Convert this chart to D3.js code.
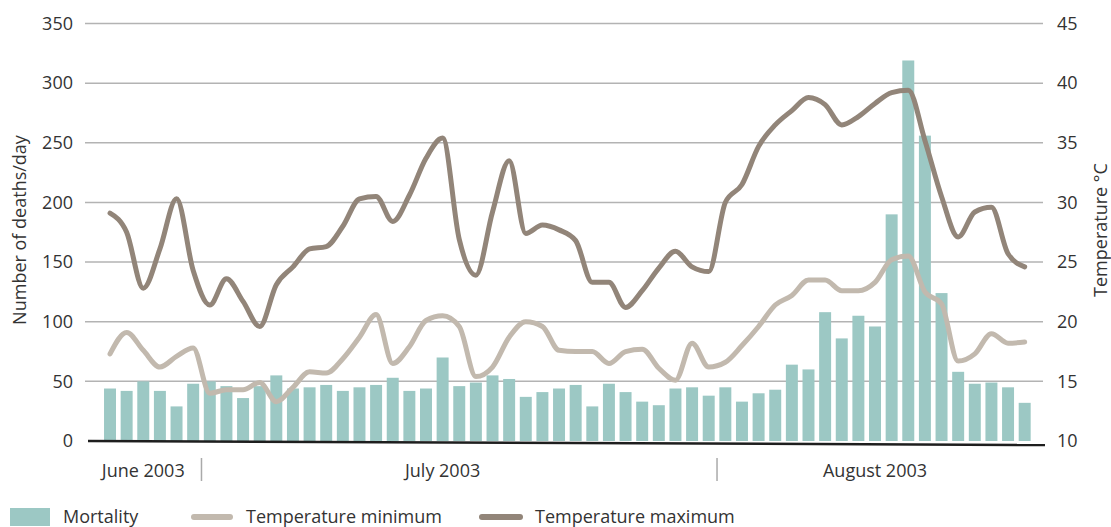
<!DOCTYPE html>
<html>
<head>
<meta charset="utf-8">
<script src="https://cdn.jsdelivr.net/npm/d3@7"></script>
<style>
  body { margin: 0; background: #fff; }
  svg { display: block; font-family: "Open Sans", "Noto Sans", sans-serif; }
  .tick-label { font-size: 18px; fill: #333; }
</style>
</head>
<body>
<svg id="chart" width="1111" height="527"></svg>
<script>
// days: 25 June 2003 .. 19 August 2003
const START_DAY = new Date(2003, 5, 25);
const DAY_COUNT = 56;
const days = d3.timeDay.range(START_DAY, d3.timeDay.offset(START_DAY, DAY_COUNT));

const mortality = [
  44, 42, 50, 42, 29, 48, 50, 46, 36, 46, 55, 44, 45, 47, 42, 45, 47, 53, 42,
  44, 70, 46, 49, 55, 52, 37, 41, 44, 47, 29, 48, 41, 33, 30, 44, 45, 38,
  45, 33, 40, 43, 64, 60, 108, 86, 105, 96, 190, 319, 256, 124, 58, 48, 49, 45, 32
];

const tempMax = [
  29.1, 27.5, 22.8, 26.1, 30.3, 24.3, 21.4, 23.6, 21.7, 19.6, 23.1, 24.6, 26.1, 26.3, 28.0, 30.3, 30.5, 28.4, 30.6,
  33.7, 35.4, 26.9, 23.9, 29.2, 33.5, 27.4, 28.1, 27.7, 26.8, 23.3, 23.3, 21.2, 22.6, 24.5, 25.9, 24.6, 24.2,
  30.0, 31.5, 34.7, 36.5, 37.7, 38.8, 38.2, 36.5, 37.2, 38.3, 39.2, 39.4, 35.2, 30.5, 27.1, 29.2, 29.6, 25.7, 24.6
];

const tempMin = [
  17.3, 19.1, 17.6, 16.2, 17.1, 17.8, 14.0, 14.3, 14.3, 14.9, 13.3, 14.5, 15.8, 15.7, 16.9, 18.7, 20.6, 16.5, 17.9,
  20.1, 20.5, 19.6, 15.4, 16.2, 18.7, 20.0, 19.6, 17.6, 17.5, 17.5, 16.5, 17.5, 17.7, 16.1, 15.1, 18.2, 16.2,
  16.6, 18.0, 19.6, 21.4, 22.2, 23.5, 23.5, 22.6, 22.6, 23.3, 25.2, 25.5, 22.5, 21.5, 16.7, 17.3, 19.0, 18.2, 18.3
];

const deathTicks = [0, 50, 100, 150, 200, 250, 300, 350];
const tempTicks = [10, 15, 20, 25, 30, 35, 40, 45];

const monthLabels = ["June 2003", "July 2003", "August 2003"];
const monthLabelDays = [new Date(2003, 5, 27), new Date(2003, 6, 15), new Date(2003, 7, 10)];
const monthStarts = [new Date(2003, 6, 1), new Date(2003, 7, 1)];

const legendItems = ["Mortality", "Temperature minimum", "Temperature maximum"];

const COLORS = { bar: "#9cc8c4", tmin: "#c2b9ae", tmax: "#928579", grid: "#b3b3b3", base: "#1e1e1e" };

const PLOT = { left: 85, right: 1043, top: 23.5, bottom: 441 };

const svg = d3.select("#chart");

const xScale = d3.scaleBand()
  .domain(days.map(d => +d))
  .range([101.7, 1033])
  .paddingInner(0.28)
  .paddingOuter(0.14);

const yDeaths = d3.scaleLinear().domain([0, 350]).range([PLOT.bottom, PLOT.top]);
const yTemp = d3.scaleLinear().domain([10, 45]).range([PLOT.bottom, PLOT.top]);

const xc = d => xScale(+d) + xScale.bandwidth() / 2;

// grid lines
svg.append("g")
  .selectAll("line")
  .data(deathTicks.filter(t => t > 0))
  .enter()
  .append("line")
  .attr("x1", PLOT.left)
  .attr("x2", PLOT.right)
  .attr("y1", d => yDeaths(d))
  .attr("y2", d => yDeaths(d))
  .attr("stroke", COLORS.grid)
  .attr("stroke-width", 1.5);

// left axis labels
const yaL = svg.append("g")
  .attr("transform", "translate(" + (PLOT.left + 2) + ",0)")
  .call(d3.axisLeft(yDeaths).tickValues(deathTicks).tickSize(0).tickPadding(14));
yaL.select(".domain").remove();
yaL.selectAll("text").attr("class", "tick-label").attr("font-size", null).attr("font-family", null);
yaL.attr("font-size", null).attr("font-family", null);

// right axis labels
const yaR = svg.append("g")
  .attr("transform", "translate(" + (PLOT.right) + ",0)")
  .call(d3.axisRight(yTemp).tickValues(tempTicks).tickSize(0).tickPadding(14));
yaR.select(".domain").remove();
yaR.selectAll("text").attr("class", "tick-label");
yaR.attr("font-size", null).attr("font-family", null);

// bars
svg.append("g")
  .selectAll("rect")
  .data(days)
  .enter()
  .append("rect")
  .attr("x", d => xScale(+d))
  .attr("width", xScale.bandwidth())
  .attr("y", (d, i) => yDeaths(mortality[i]))
  .attr("height", (d, i) => yDeaths(0) - yDeaths(mortality[i]))
  .attr("fill", COLORS.bar);

// temperature lines
const lineFor = values => d3.line()
  .x((d, i) => xc(days[i]))
  .y(d => yTemp(d))
  .curve(d3.curveMonotoneX)(values);

svg.append("path")
  .attr("d", lineFor(tempMin))
  .attr("fill", "none")
  .attr("stroke", COLORS.tmin)
  .attr("stroke-width", 5)
  .attr("stroke-linejoin", "round")
  .attr("stroke-linecap", "round");

svg.append("path")
  .attr("d", lineFor(tempMax))
  .attr("fill", "none")
  .attr("stroke", COLORS.tmax)
  .attr("stroke-width", 5)
  .attr("stroke-linejoin", "round")
  .attr("stroke-linecap", "round");

// baseline
svg.append("line")
  .attr("x1", 88)
  .attr("x2", 1045)
  .attr("y1", yDeaths(0))
  .attr("y2", yDeaths(0) + 4)
  .attr("stroke", COLORS.base)
  .attr("stroke-width", 2.5);

// month separators
const step = xScale.step();
svg.append("g")
  .selectAll("line")
  .data(monthStarts)
  .enter()
  .append("line")
  .attr("x1", d => xScale(+d) - (step - xScale.bandwidth()) / 2)
  .attr("x2", d => xScale(+d) - (step - xScale.bandwidth()) / 2)
  .attr("y1", 458)
  .attr("y2", 481)
  .attr("stroke", "#aaa")
  .attr("stroke-width", 1.5);

// month labels
svg.append("g")
  .selectAll("text")
  .data(monthLabels)
  .enter()
  .append("text")
  .attr("class", "tick-label")
  .attr("x", (d, i) => xc(monthLabelDays[i]))
  .attr("y", 477)
  .attr("text-anchor", "middle")
  .text(d => d);

// axis titles
svg.append("text")
  .attr("class", "tick-label")
  .attr("transform", "translate(26,230) rotate(-90)")
  .attr("text-anchor", "middle")
  .text("Number of deaths/day");

svg.append("text")
  .attr("class", "tick-label")
  .attr("transform", "translate(1107,230) rotate(-90)")
  .attr("text-anchor", "middle")
  .text("Temperature \u00b0C");

// legend
const legend = svg.append("g");
legend.append("rect")
  .attr("x", 10).attr("y", 508).attr("width", 40).attr("height", 18)
  .attr("fill", COLORS.bar);
legend.append("line")
  .attr("x1", 194).attr("x2", 230).attr("y1", 517).attr("y2", 517)
  .attr("stroke", COLORS.tmin).attr("stroke-width", 6).attr("stroke-linecap", "round");
legend.append("line")
  .attr("x1", 482).attr("x2", 520).attr("y1", 517).attr("y2", 517)
  .attr("stroke", COLORS.tmax).attr("stroke-width", 6).attr("stroke-linecap", "round");
const legendX = [63, 246, 535];
legend.selectAll("text")
  .data(legendItems)
  .enter()
  .append("text")
  .attr("class", "tick-label")
  .attr("x", (d, i) => legendX[i])
  .attr("y", 523)
  .text(d => d);
</script>
</body>
</html>
